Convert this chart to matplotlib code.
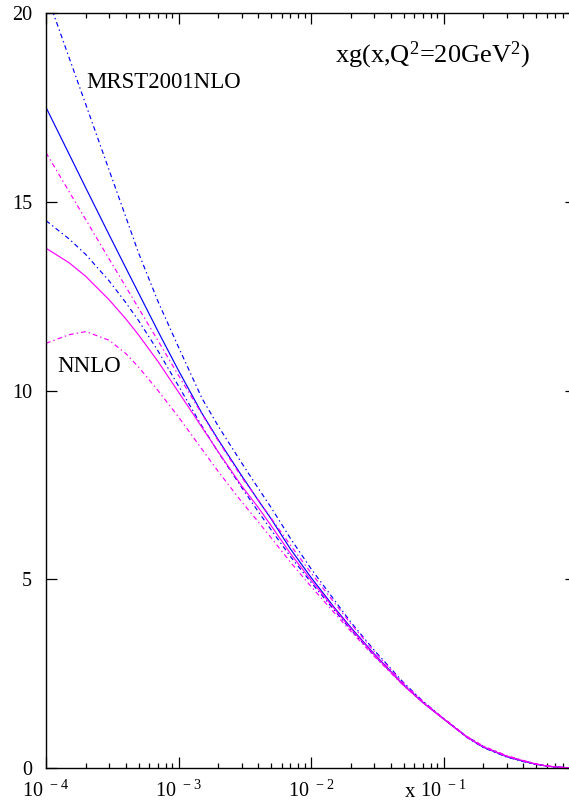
import matplotlib
matplotlib.use("Agg")
import matplotlib.pyplot as plt
from matplotlib.ticker import FixedLocator, NullFormatter

plt.rcParams['font.family'] = 'Liberation Serif'
plt.rcParams['mathtext.fontset'] = 'custom'
plt.rcParams['mathtext.rm'] = 'Liberation Serif'

# x values and xg
x = [1e-4, 1.5e-4, 2e-4, 3e-4, 4e-4, 5e-4, 7e-4, 1e-3, 1.5e-3, 2e-3, 3e-3, 4e-3, 5e-3, 7e-3,
     1e-2, 1.5e-2, 2e-2, 3e-2, 5e-2, 7e-2, 0.1, 0.15, 0.2, 0.3, 0.4, 0.5, 0.6, 0.7, 0.8, 0.9, 1.0]

mrst_central = [17.50, 16.25, 15.36, 14.12, 13.25, 12.58, 11.57, 10.53, 9.40, 8.69, 7.74, 7.09, 6.60, 5.80,
                5.05, 4.25, 3.72, 3.02, 2.20, 1.73, 1.30, 0.82, 0.55, 0.30, 0.18, 0.10, 0.05, 0.03, 0.015, 0.005, 0.0]
mrst_upper = [20.54, 18.80, 17.57, 15.83, 14.60, 13.64, 12.36, 11.15, 9.80, 9.05, 8.08, 7.41, 6.90, 6.08,
              5.28, 4.45, 3.86, 3.12, 2.26, 1.77, 1.31, 0.81, 0.54, 0.29, 0.17, 0.095, 0.05, 0.025, 0.012, 0.004, 0.0]
mrst_lower = [14.50, 14.01, 13.60, 12.90, 12.33, 11.85, 11.05, 10.12, 9.06, 8.36, 7.43, 6.79, 6.31, 5.60,
              4.92, 4.18, 3.66, 2.98, 2.20, 1.74, 1.31, 0.83, 0.57, 0.31, 0.19, 0.105, 0.055, 0.028, 0.013, 0.004, 0.0]

nnlo_central = [13.77, 13.38, 13.02, 12.40, 11.90, 11.47, 10.77, 9.96, 9.03, 8.37, 7.47, 6.90, 6.42, 5.68,
                4.98, 4.22, 3.69, 3.00, 2.19, 1.73, 1.30, 0.82, 0.56, 0.31, 0.19, 0.105, 0.055, 0.03, 0.013, 0.004, 0.0]
nnlo_upper = [16.30, 15.26, 14.52, 13.48, 12.75, 12.18, 11.32, 10.40, 9.38, 8.66, 7.70, 7.10, 6.62, 5.90,
              5.17, 4.38, 3.82, 3.09, 2.24, 1.76, 1.31, 0.82, 0.56, 0.31, 0.19, 0.10, 0.05, 0.028, 0.012, 0.004, 0.0]
nnlo_lower = [11.25, 11.48, 11.56, 11.33, 10.98, 10.62, 10.00, 9.30, 8.45, 7.85, 7.05, 6.52, 6.10, 5.45,
              4.81, 4.11, 3.62, 2.96, 2.18, 1.74, 1.32, 0.84, 0.58, 0.33, 0.20, 0.11, 0.06, 0.03, 0.014, 0.005, 0.0]

blue = "#0000ff"
magenta = "#ff00ff"
dashdot = (0, (4.0, 2.6, 1.2, 2.6))

fig = plt.figure(figsize=(5.69, 8.02), dpi=100)
ax = fig.add_axes([46 / 569, 34 / 802, 530 / 569, 755 / 802])

ax.plot(x, mrst_central, color=blue, lw=0.85)
ax.plot(x, mrst_upper, color=blue, lw=0.85, linestyle=dashdot)
ax.plot(x, mrst_lower, color=blue, lw=0.85, linestyle=dashdot)
ax.plot(x, nnlo_central, color=magenta, lw=0.85)
ax.plot(x, nnlo_upper, color=magenta, lw=0.85, linestyle=dashdot)
ax.plot(x, nnlo_lower, color=magenta, lw=0.85, linestyle=dashdot)

ax.set_xscale('log')
ax.set_xlim(1e-4, 1)
ax.set_ylim(0, 20)

# ticks
ax.xaxis.set_major_locator(FixedLocator([1e-4, 1e-3, 1e-2, 1e-1]))
minors = [m * 10.0 ** e for e in range(-4, 0) for m in range(2, 10)]
ax.xaxis.set_minor_locator(FixedLocator(minors))
ax.xaxis.set_minor_formatter(NullFormatter())
ax.set_xticklabels([r'$\mathregular{10^{\ -4}}$', r'$\mathregular{10^{\ -3}}$',
                    r'$\mathregular{10^{\ -2}}$', r'$\mathregular{10^{\ -1}}$'])
ax.set_yticks([0, 5, 10, 15, 20])
ax.set_yticklabels(['0', '5', '10', '15', '20'])

ax.tick_params(axis='both', which='both', direction='in', top=True, right=True, labelsize=14.5)
ax.tick_params(axis='both', which='major', length=8, width=0.9)
ax.tick_params(axis='both', which='minor', length=3.8, width=0.9)
ax.tick_params(axis='x', pad=9)
ax.tick_params(axis='y', pad=10)

for s in ax.spines.values():
    s.set_linewidth(1.0)

fig.text(410 / 569, 1 - 797 / 802, 'x', ha='center', va='baseline', fontsize=15)
fig.text(335 / 569, 1 - 62 / 802, r'xg(x,Q$\mathregular{^2}$=20GeV$\mathregular{^2}$)',
         ha='left', va='baseline', fontsize=19)
fig.text(86 / 569, 1 - 88 / 802, 'MRST2001NLO', ha='left', va='baseline', fontsize=16.5)
fig.text(57 / 569, 1 - 372 / 802, 'NNLO', ha='left', va='baseline', fontsize=16.5)

plt.savefig("out.png", dpi=100)
